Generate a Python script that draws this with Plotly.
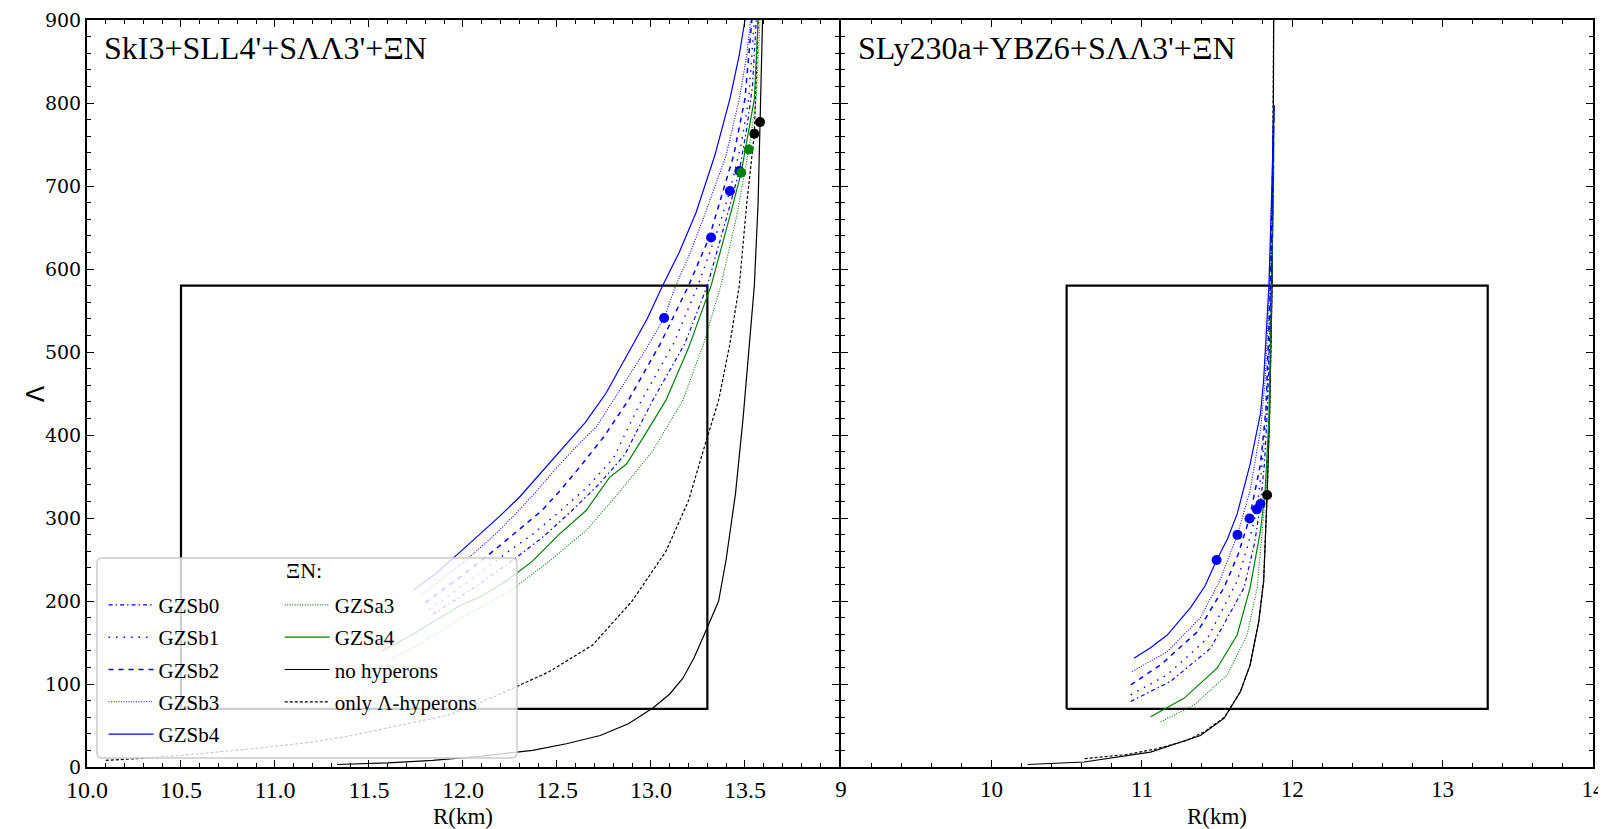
import plotly.graph_objects as go

# ---------------- data ----------------
box_R = [10.5, 13.3, 13.3, 10.5, 10.5]
box_L = [70, 70, 580, 580, 70]

# Left panel: SkI3+SLL4'+SΛΛ3'+ΞN
L_b4_R = [11.74, 11.85, 11.95, 12.07, 12.19, 12.30, 12.41, 12.55, 12.65, 12.76, 12.885, 12.98, 13.06, 13.15, 13.24, 13.34, 13.42, 13.47, 13.50, 13.53]
L_b4_L = [214, 232, 252, 276, 301, 325, 353, 389, 415, 450, 502, 540, 579, 620, 668, 737, 805, 858, 900, 960]
L_b3_R = [11.78, 11.92, 12.05, 12.17, 12.28, 12.39, 12.50, 12.62, 12.71, 12.80, 12.97, 13.07, 13.13, 13.21, 13.29, 13.40, 13.47, 13.51, 13.53, 13.55]
L_b3_L = [208, 232, 256, 280, 305, 332, 361, 390, 410, 442, 502, 541, 579, 620, 668, 737, 805, 858, 900, 960]
L_b2_R = [11.80, 11.98, 12.16, 12.29, 12.42, 12.52, 12.62, 12.75, 12.88, 13.05, 13.20, 13.31, 13.35, 13.44, 13.50, 13.54, 13.56]
L_b2_L = [198, 228, 260, 284, 309, 334, 361, 398, 442, 510, 580, 638, 668, 737, 805, 900, 960]
L_b1_R = [11.82, 12.02, 12.22, 12.38, 12.52, 12.66, 12.80, 12.95, 13.12, 13.25, 13.36, 13.42, 13.48, 13.52, 13.55, 13.57]
L_b1_L = [190, 222, 256, 282, 309, 337, 372, 442, 510, 580, 650, 694, 750, 805, 900, 960]
L_b0_R = [11.84, 12.06, 12.27, 12.43, 12.58, 12.72, 12.86, 13.01, 13.18, 13.30, 13.41, 13.47, 13.51, 13.54, 13.56, 13.58]
L_b0_L = [184, 216, 250, 278, 309, 340, 376, 442, 510, 580, 668, 718, 770, 820, 900, 960]
L_a4_R = [11.57, 11.75, 11.98, 12.10, 12.23, 12.37, 12.51, 12.655, 12.78, 12.87, 12.97, 13.08, 13.20, 13.32, 13.425, 13.48, 13.55, 13.57, 13.59]
L_a4_L = [140, 162, 194, 206, 224, 248, 280, 309, 349, 365, 401, 442, 505, 580, 668, 716, 805, 900, 960]
L_a3_R = [11.60, 11.73, 11.98, 12.25, 12.46, 12.655, 12.81, 13.01, 13.17, 13.28, 13.372, 13.46, 13.52, 13.56, 13.58, 13.60]
L_a3_L = [128, 143, 178, 212, 248, 285, 325, 381, 442, 510, 580, 668, 744, 805, 900, 960]
L_nh_R = [11.33, 11.60, 11.84, 12.10, 12.37, 12.55, 12.73, 12.88, 13.01, 13.10, 13.17, 13.23, 13.29, 13.36, 13.40, 13.45, 13.49, 13.52, 13.55, 13.57, 13.58, 13.59, 13.60]
L_nh_L = [3, 5, 8, 13, 20, 28, 38, 52, 71, 88, 107, 132, 163, 200, 250, 330, 420, 500, 580, 680, 777, 900, 960]
L_lam_R = [10.10, 10.26, 10.50, 10.88, 11.20, 11.41, 11.66, 11.93, 12.19, 12.46, 12.69, 12.90, 13.08, 13.20, 13.29, 13.36, 13.42, 13.47, 13.51, 13.55, 13.57, 13.58]
L_lam_L = [8, 10, 14, 22, 30, 38, 50, 63, 87, 115, 147, 200, 260, 321, 390, 442, 510, 580, 680, 763, 900, 960]

L_dot_blue_R = [13.07, 13.32, 13.42, 13.47]
L_dot_blue_L = [541, 638, 694, 718]
L_dot_green_R = [13.48, 13.52]
L_dot_green_L = [716, 744]
L_dot_black_R = [13.55, 13.58]
L_dot_black_L = [763, 777]

# Right panel: SLy230a+YBZ6+SΛΛ3'+ΞN
R_b4_R = [10.948, 11.06, 11.169, 11.324, 11.42, 11.497, 11.57, 11.634, 11.72, 11.789, 11.81, 11.845, 11.865, 11.878]
R_b4_L = [131, 144, 159, 192, 218, 249, 275, 305, 365, 426, 466, 580, 700, 797]
R_b3_R = [10.937, 11.169, 11.39, 11.52, 11.636, 11.72, 11.789, 11.82, 11.85, 11.868, 11.878]
R_b3_L = [115, 139, 180, 225, 280, 333, 406, 466, 580, 700, 797]
R_b2_R = [10.926, 11.125, 11.37, 11.546, 11.64, 11.716, 11.789, 11.825, 11.855, 11.87, 11.878]
R_b2_L = [99, 123, 163, 216, 256, 300, 365, 430, 580, 700, 797]
R_b1_R = [10.926, 11.169, 11.436, 11.634, 11.71, 11.765, 11.80, 11.83, 11.858, 11.872, 11.878]
R_b1_L = [87, 111, 155, 224, 270, 310, 365, 430, 580, 700, 797]
R_b0_R = [10.926, 11.19, 11.457, 11.68, 11.75, 11.789, 11.815, 11.835, 11.86, 11.873, 11.878]
R_b0_L = [79, 103, 143, 216, 270, 317, 365, 430, 580, 700, 797]
R_a4_R = [11.058, 11.28, 11.50, 11.634, 11.72, 11.789, 11.82, 11.845, 11.862, 11.875, 11.878]
R_a4_L = [60.5, 82.7, 119, 159, 216, 285, 333, 420, 580, 700, 797]
R_a3_R = [11.125, 11.347, 11.568, 11.70, 11.767, 11.80, 11.83, 11.85, 11.866, 11.876, 11.878]
R_a3_L = [54.5, 74.7, 111, 159, 216, 285, 345, 420, 580, 700, 797]
R_nh_R = [10.24, 10.616, 11.058, 11.39, 11.546, 11.656, 11.72, 11.778, 11.81, 11.833, 11.85, 11.866, 11.874, 11.877, 11.878]
R_nh_L = [3, 6, 18, 38, 58.5, 91, 123, 176, 224, 328, 430, 580, 750, 900, 960]
R_lam_R = [10.62, 10.90, 11.10, 11.30, 11.42, 11.55, 11.656, 11.72, 11.778, 11.81, 11.833, 11.85, 11.866, 11.874, 11.877, 11.878]
R_lam_L = [10, 15, 22, 32, 43, 60, 91, 123, 176, 224, 328, 430, 580, 750, 900, 960]

R_dot_blue_R = [11.497, 11.636, 11.716, 11.765, 11.789]
R_dot_blue_L = [249.4, 279.7, 299.5, 310.4, 316.9]
R_dot_black_R = [11.833]
R_dot_black_L = [327.8]

left_xticks = [10.0, 10.5, 11.0, 11.5, 12.0, 12.5, 13.0, 13.5]
left_xtext = ["10.0", "10.5", "11.0", "11.5", "12.0", "12.5", "13.0", "13.5"]
right_xticks = [9, 10, 11, 12, 13, 14]
right_xtext = ["9", "10", "11", "12", "13", "14"]

title_left = "SkI3+SLL4'+SΛΛ3'+ΞN"
title_right = "SLy230a+YBZ6+SΛΛ3'+ΞN"

# ---------------- styles ----------------
BLUE = "#0000ff"
GREEN = "#008000"
BLACK = "#000000"
styles = {
    "GZSb0": dict(color=BLUE, dash="4px,3px,1.5px,3px", width=1.2),
    "GZSb1": dict(color=BLUE, dash="1.5px,6px", width=1.4),
    "GZSb2": dict(color=BLUE, dash="5px,5px", width=1.5),
    "GZSb3": dict(color=BLUE, dash="1px,1.5px", width=1.1),
    "GZSb4": dict(color=BLUE, dash="solid", width=1.2),
    "GZSa3": dict(color=GREEN, dash="1px,1.5px", width=1.1),
    "GZSa4": dict(color=GREEN, dash="solid", width=1.2),
    "no hyperons": dict(color=BLACK, dash="solid", width=1.2),
    "only Λ-hyperons": dict(color=BLACK, dash="3px,2px", width=1.2),
}
legend_of = {"GZSb0": "legend", "GZSb1": "legend", "GZSb2": "legend", "GZSb3": "legend", "GZSb4": "legend",
             "GZSa3": "legend2", "GZSa4": "legend2", "no hyperons": "legend2", "only Λ-hyperons": "legend2"}
rank_of = {"GZSb0": 1, "GZSb1": 2, "GZSb2": 3, "GZSb3": 4, "GZSb4": 5,
           "GZSa3": 1, "GZSa4": 2, "no hyperons": 3, "only Λ-hyperons": 4}

left_curves = [("no hyperons", L_nh_R, L_nh_L), ("only Λ-hyperons", L_lam_R, L_lam_L),
               ("GZSa3", L_a3_R, L_a3_L), ("GZSa4", L_a4_R, L_a4_L),
               ("GZSb0", L_b0_R, L_b0_L), ("GZSb1", L_b1_R, L_b1_L), ("GZSb2", L_b2_R, L_b2_L),
               ("GZSb3", L_b3_R, L_b3_L), ("GZSb4", L_b4_R, L_b4_L)]
right_curves = [("no hyperons", R_nh_R, R_nh_L), ("only Λ-hyperons", R_lam_R, R_lam_L),
                ("GZSa3", R_a3_R, R_a3_L), ("GZSa4", R_a4_R, R_a4_L),
                ("GZSb0", R_b0_R, R_b0_L), ("GZSb1", R_b1_R, R_b1_L), ("GZSb2", R_b2_R, R_b2_L),
                ("GZSb3", R_b3_R, R_b3_L), ("GZSb4", R_b4_R, R_b4_L)]

fig = go.Figure()

# boxes
for xa, ya in (("x", "y"), ("x2", "y2")):
    fig.add_trace(go.Scatter(x=box_R, y=box_L, xaxis=xa, yaxis=ya, mode="lines",
                             line=dict(color=BLACK, width=2.2), showlegend=False, hoverinfo="skip"))

for name, R, L in left_curves:
    s = styles[name]
    fig.add_trace(go.Scatter(x=R, y=L, xaxis="x", yaxis="y", mode="lines", name=name,
                             line=dict(color=s["color"], dash=s["dash"], width=s["width"]),
                             legend=legend_of[name], legendrank=rank_of[name], legendgroup=name,
                             showlegend=True))
for name, R, L in right_curves:
    s = styles[name]
    fig.add_trace(go.Scatter(x=R, y=L, xaxis="x2", yaxis="y2", mode="lines", name=name,
                             line=dict(color=s["color"], dash=s["dash"], width=s["width"]),
                             showlegend=False))

dots = [("x", "y", L_dot_blue_R, L_dot_blue_L, BLUE), ("x", "y", L_dot_green_R, L_dot_green_L, GREEN),
        ("x", "y", L_dot_black_R, L_dot_black_L, BLACK),
        ("x2", "y2", R_dot_blue_R, R_dot_blue_L, BLUE), ("x2", "y2", R_dot_black_R, R_dot_black_L, BLACK)]
for xa, ya, R, L, c in dots:
    fig.add_trace(go.Scatter(x=R, y=L, xaxis=xa, yaxis=ya, mode="markers",
                             marker=dict(color=c, size=10), showlegend=False))

SERIF = "Liberation Serif"
axis_common = dict(showline=True, linecolor=BLACK, linewidth=2, mirror="allticks",
                   ticks="inside", ticklen=7, tickwidth=1.4, tickcolor=BLACK,
                   showgrid=False, zeroline=False, automargin=False)
leg_common = dict(xanchor="left", yanchor="top", bgcolor="rgba(0,0,0,0)", borderwidth=0,
                  font=dict(family=SERIF, size=21, color=BLACK), itemwidth=45,
                  tracegroupgap=2, traceorder="grouped")
# page has an 8px body margin: figure is sized so that it ends exactly at the window edge
fig.update_layout(
    width=1598, height=821,
    margin=dict(l=79, r=13, t=12, b=62),
    plot_bgcolor="white", paper_bgcolor="white",
    xaxis=dict(domain=[0, 0.4993], range=[10, 14], tickvals=left_xticks, ticktext=left_xtext,
               minor=dict(dtick=0.1, tick0=10, ticks="inside", ticklen=4, tickwidth=1, tickcolor=BLACK),
               tickfont=dict(family=SERIF, size=24, color=BLACK),
               title=dict(text="R(km)", font=dict(family=SERIF, size=23, color=BLACK), standoff=10),
               anchor="y", **axis_common),
    xaxis2=dict(domain=[0.5007, 1], range=[9, 14], tickvals=right_xticks, ticktext=right_xtext,
                minor=dict(dtick=0.2, tick0=9, ticks="inside", ticklen=4, tickwidth=1, tickcolor=BLACK),
                tickfont=dict(family=SERIF, size=23, color=BLACK),
                title=dict(text="R(km)", font=dict(family=SERIF, size=23, color=BLACK), standoff=10),
                anchor="y2", **axis_common),
    yaxis=dict(range=[0, 900], dtick=100, tick0=0,
               minor=dict(dtick=20, ticks="inside", ticklen=4, tickwidth=1, tickcolor=BLACK),
               tickfont=dict(family="DejaVu Serif", size=19, color=BLACK),
               anchor="x", **axis_common),
    yaxis2=dict(range=[0, 900], dtick=100, tick0=0, matches="y", showticklabels=False,
                minor=dict(dtick=20, ticks="inside", ticklen=4, tickwidth=1, tickcolor=BLACK),
                anchor="x2", **axis_common),
    legend=dict(x=0.011, y=0.244, **leg_common),
    legend2=dict(x=0.128, y=0.244, **leg_common),
    showlegend=True,
)

# y axis title
fig.add_annotation(xref="paper", yref="paper", x=-0.034, y=0.5, text="Λ", showarrow=False, textangle=-90,
                   xanchor="center", yanchor="middle", font=dict(family="DejaVu Sans", size=24, color=BLACK))

# legend frame (rounded corners) and title
x0, x1, y0, y1 = 0.0066, 0.2855, 0.012, 0.2798
rx, ry = 0.0035, 0.007
frame = (f"M{x0+rx},{y0} L{x1-rx},{y0} Q{x1},{y0} {x1},{y0+ry} L{x1},{y1-ry} Q{x1},{y1} {x1-rx},{y1} "
         f"L{x0+rx},{y1} Q{x0},{y1} {x0},{y1-ry} L{x0},{y0+ry} Q{x0},{y0} {x0+rx},{y0} Z")
fig.add_shape(type="path", xref="paper", yref="paper", path=frame,
              fillcolor="rgba(255,255,255,0.8)", line=dict(color="#cccccc", width=1.5), layer="above")
fig.add_annotation(xref="paper", yref="paper", x=0.144, y=0.263, text="ΞN:", showarrow=False,
                   font=dict(family=SERIF, size=22, color=BLACK), xanchor="center", yanchor="middle")

# panel titles
fig.add_annotation(xref="x", yref="y", x=10.08, y=866, text=title_left, showarrow=False,
                   xanchor="left", yanchor="middle", font=dict(family=SERIF, size=32, color=BLACK))
fig.add_annotation(xref="x2", yref="y2", x=9.1, y=866, text=title_right, showarrow=False,
                   xanchor="left", yanchor="middle", font=dict(family=SERIF, size=32, color=BLACK))

fig.write_html("out.html")
